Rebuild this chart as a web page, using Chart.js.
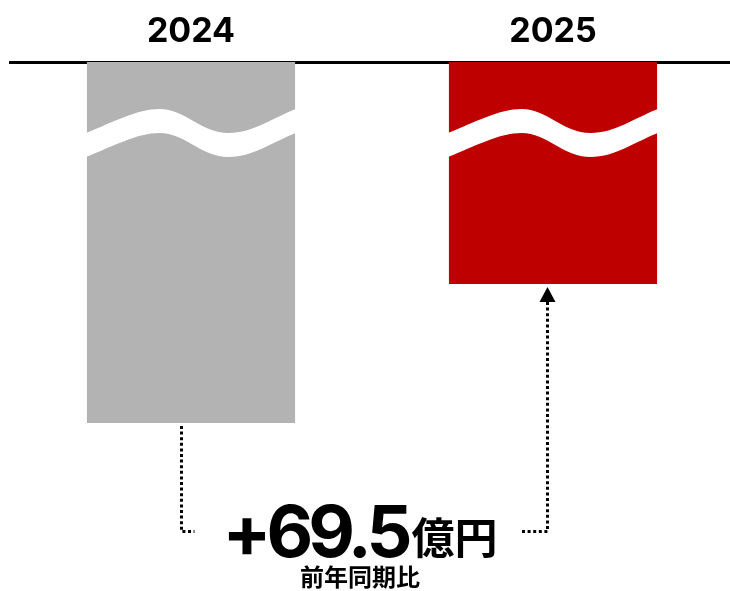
<!DOCTYPE html>
<html>
<head>
<meta charset="utf-8">
<script src="https://cdn.jsdelivr.net/npm/chart.js@4/dist/chart.umd.min.js"></script>
<style>
    html, body { margin: 0; padding: 0; background: #fff; overflow: hidden; }
    #wrap { width: 734px; height: 591px; position: relative; }
</style>
</head>
<body>
<div id="wrap"><canvas id="yoy_chart"></canvas></div>
<script>
// 億円, bars hang from the zero line at the top (axis is broken by the wave)
const years = ['2024', '2025']
const values = [-180.5, -111.0]
const bar_colors = ['#b3b3b3', '#be0000']
const caption = '前年同期比'
const unit = '億円'

// white wave across the top of each bar to show the axis is cut
const wave_break = {
    id: 'wave_break',
    afterDatasetsDraw(chart) {
        const ctx = chart.ctx
        const meta = chart.getDatasetMeta(0)
        meta.data.forEach(bar => {
            const left = bar.x - bar.width / 2
            const w = bar.width
            const top = bar.base
            const band = 24
            ctx.save()
            ctx.beginPath()
            ctx.moveTo(left - 1, top + 71)
            ctx.bezierCurveTo(left + w * 0.13, top + 60, left + w * 0.24, top + 47, left + w * 0.35, top + 47)
            ctx.bezierCurveTo(left + w * 0.47, top + 47, left + w * 0.55, top + 71, left + w * 0.68, top + 71)
            ctx.bezierCurveTo(left + w * 0.8, top + 71, left + w * 0.9, top + 55, left + w + 1, top + 47)
            // back along the lower edge
            ctx.lineTo(left + w + 1, top + 47 + band)
            ctx.bezierCurveTo(left + w * 0.9, top + 55 + band, left + w * 0.8, top + 71 + band, left + w * 0.68, top + 71 + band)
            ctx.bezierCurveTo(left + w * 0.55, top + 71 + band, left + w * 0.47, top + 47 + band, left + w * 0.35, top + 47 + band)
            ctx.bezierCurveTo(left + w * 0.24, top + 47 + band, left + w * 0.13, top + 60 + band, left - 1, top + 71 + band)
            ctx.closePath()
            ctx.fillStyle = '#fff'
            ctx.fill()
            ctx.restore()
        })
    }
}

// dotted connector from 2024 to 2025 with the difference in the middle
const diff_note = {
    id: 'diff_note',
    afterDraw(chart) {
        const ctx = chart.ctx
        const bars = chart.getDatasetMeta(0).data
        const a = bars[0], b = bars[1]
        const xl = Math.round(a.x - 10) + 0.5
        const xr = Math.round(b.x - 6) + 0.5
        const y_low = 531.5
        const mid = 360

        ctx.save()
        ctx.strokeStyle = '#000'
        ctx.lineWidth = 3
        ctx.setLineDash([3, 2.6])
        ctx.beginPath()
        ctx.moveTo(xl, a.y + 3)
        ctx.lineTo(xl, y_low)
        ctx.lineTo(xl + 13, y_low)
        ctx.stroke()

        ctx.beginPath()
        ctx.moveTo(522, y_low)
        ctx.lineTo(xr, y_low)
        ctx.lineTo(xr, b.y + 18)
        ctx.stroke()
        ctx.setLineDash([])

        // arrow head under the 2025 bar
        ctx.fillStyle = '#000'
        ctx.beginPath()
        ctx.moveTo(xr, b.y + 3)
        ctx.lineTo(xr + 8, b.y + 18)
        ctx.lineTo(xr - 8, b.y + 18)
        ctx.closePath()
        ctx.fill()

        const d = values[1] - values[0]
        const num = (d >= 0 ? '+' : '') + d.toFixed(1)
        ctx.textBaseline = 'alphabetic'
        ctx.textAlign = 'left'
        ctx.letterSpacing = '-5px'
        ctx.font = 'bold 72px Inter'
        const w_num = ctx.measureText(num).width
        ctx.letterSpacing = '0px'
        ctx.font = 'bold 43px "Noto Sans CJK JP"'
        const w_unit = ctx.measureText(unit).width
        let x = mid - (w_num + w_unit + 4) / 2
        ctx.letterSpacing = '-5px'
        ctx.font = 'bold 72px Inter'
        ctx.fillText(num, x, 557)
        ctx.letterSpacing = '0px'
        ctx.font = 'bold 43px "Noto Sans CJK JP"'
        ctx.fillText(unit, x + w_num + 4, 554)

        ctx.textAlign = 'center'
        ctx.font = 'bold 24px "Noto Sans CJK JP"'
        ctx.fillText(caption, mid, 586)
        ctx.restore()
    }
}

function draw_chart() {
    let canvas = document.querySelector('#yoy_chart')
    new Chart(canvas, {
        type: 'bar',
        data: {
            labels: years,
            datasets: [{
                label: '',
                data: values,
                backgroundColor: bar_colors,
                barPercentage: 1,
                categoryPercentage: 0.575,
            }]
        },
        options: {
            responsive: true,
            maintainAspectRatio: false,
            devicePixelRatio: 1,
            animation: false,
            layout: { padding: { left: 10, right: 0, top: 0, bottom: 9 } },
            plugins: {
                legend: { display: false },
                tooltip: { enabled: false },
            },
            scales: {
                x: {
                    position: 'top',
                    z: 1,
                    grid: { display: false, drawTicks: false },
                    border: { display: true, width: 3, color: '#000' },
                    ticks: {
                        color: '#000',
                        padding: 10,
                        font: { family: 'Inter', weight: 'bold', size: 34 },
                    },
                    afterFit(scale) { scale.height = 62 },
                },
                y: {
                    display: false,
                    min: -260,
                    max: 0,
                },
            },
        },
        plugins: [wave_break, diff_note],
    })
}

draw_chart()
</script>
</body>
</html>
